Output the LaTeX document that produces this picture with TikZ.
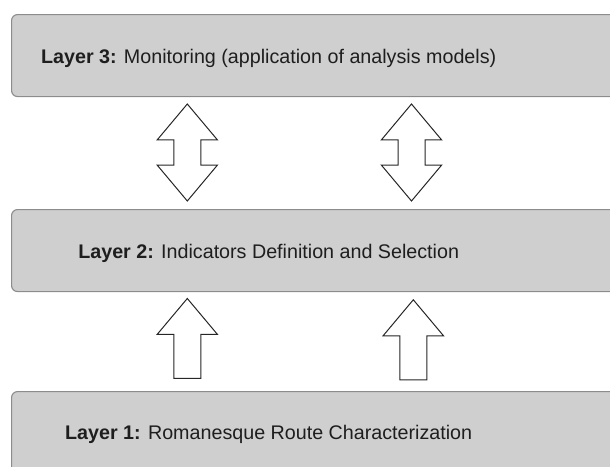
\documentclass[tikz,border=0pt]{standalone}
\usepackage{fontspec}
\setmainfont{Liberation Sans}
\usetikzlibrary{shapes.arrows}
\definecolor{layerfill}{HTML}{CFCFCF}
\definecolor{layerline}{HTML}{8C8C8C}
\definecolor{txtcol}{HTML}{1E1E1E}
\begin{document}
\begin{tikzpicture}[x=1pt, y=-1pt, every node/.style={font=\fontsize{19.7}{23}\selectfont, text=txtcol}, layer/.style={draw=layerline, fill=layerfill, line width=1.1pt, rounded corners=6pt, anchor=north west, minimum width=640pt, minimum height=82pt, inner sep=0pt}, lbl/.style={anchor=base, inner sep=0pt}, dbl/.style={double arrow, draw=black!85, fill=white, line width=1pt, rotate=90, minimum height=97pt, inner xsep=0pt, inner ysep=13pt, double arrow head extend=16.7pt, double arrow tip angle=80}, upa/.style={single arrow, draw=black!85, fill=white, line width=1pt, rotate=90, anchor=tip, minimum height=80pt, inner xsep=0pt, inner ysep=13pt, single arrow head extend=16.7pt, single arrow tip angle=80}]
\useasboundingbox (0,0) rectangle (610,466);
\clip (0,0) rectangle (610,466);
\node[layer] (l3) at (11,14) {};
\node[layer] (l2) at (11,209) {};
\node[layer] (l1) at (11,391) {};
\node[lbl] (l3t) at (268.7,63.4) {\textbf{Layer 3:} Monitoring (application of analysis models)};
\node[lbl] (l2t) at (268.7,258.4) {\textbf{Layer 2:} Indicators Definition and Selection};
\node[lbl] (l1t) at (268.7,439.8) {\textbf{Layer 1:} Romanesque Route Characterization};
\node[dbl] (d1) at (187.3,152.5) {};
\node[dbl] (d2) at (411.5,152.5) {};
\node[upa] (u1) at (187.3,297.7) {};
\node[upa] (u2) at (413.3,299) {};
\end{tikzpicture}
\end{document}
